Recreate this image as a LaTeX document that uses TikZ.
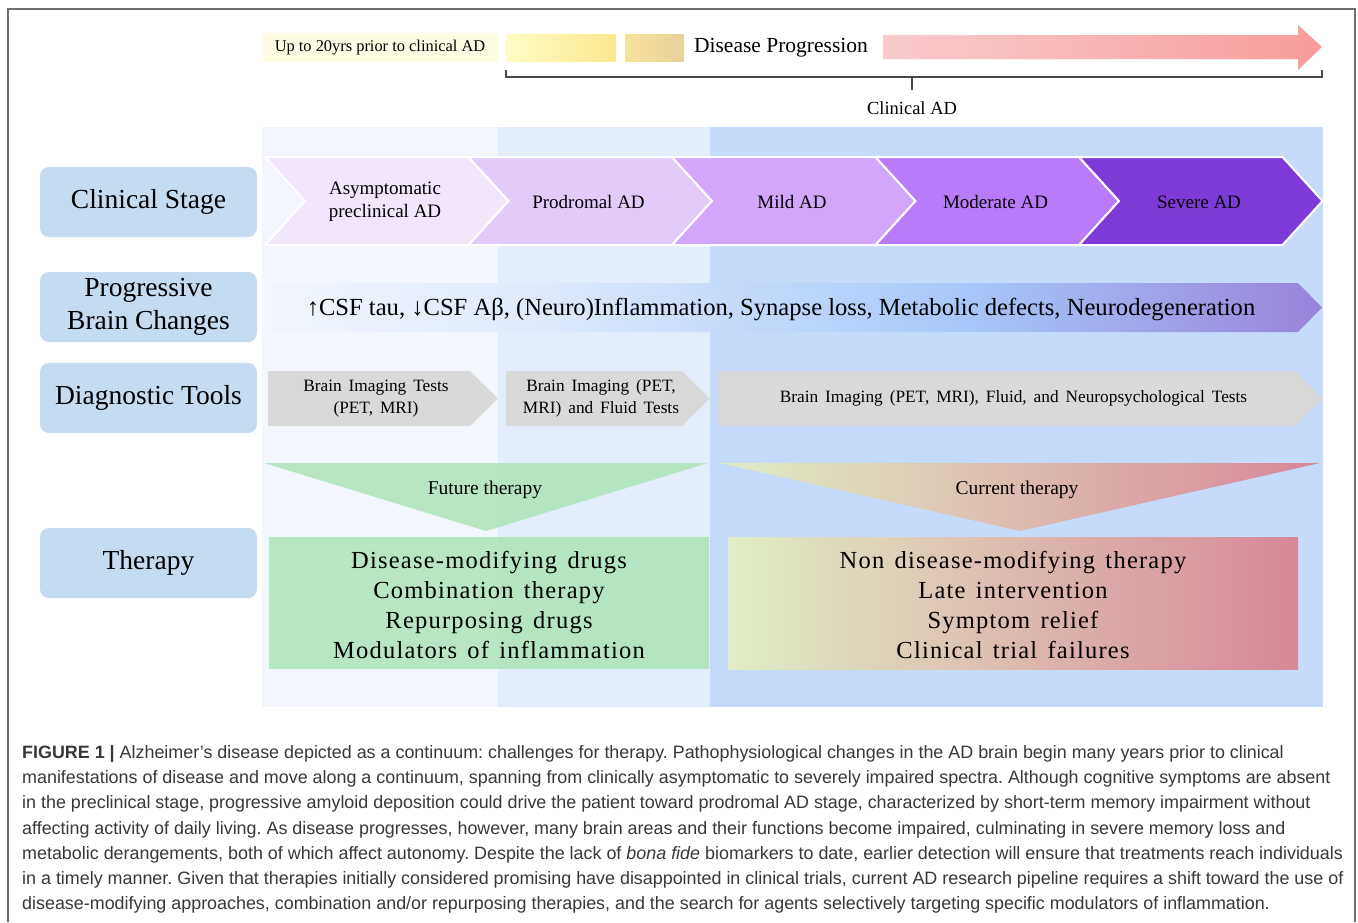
\documentclass[tikz,border=0pt]{standalone}
\usepackage{fontspec}
\setmainfont{Liberation Serif}
\newfontfamily\capfont{Liberation Sans}
\newfontfamily\widefont{Liberation Serif}[LetterSpace=5]
\usetikzlibrary{positioning}
\frenchspacing
\newcommand\toolspace{\spaceskip=.4em\relax}
\newcommand\therapyspace{\spaceskip=.42em\relax}

\definecolor{colA}{HTML}{F3F7FD}
\definecolor{colB}{HTML}{E3EDFB}
\definecolor{colC}{HTML}{C6DBFB}
\definecolor{labelblue}{HTML}{C5DBEF}
\definecolor{stageA}{HTML}{F1E6FB}
\definecolor{stageB}{HTML}{E2CBFB}
\definecolor{stageC}{HTML}{D2A6FB}
\definecolor{stageD}{HTML}{BA7BFA}
\definecolor{stageE}{HTML}{7E3AD7}
\definecolor{toolgrey}{HTML}{D9D9D9}
\definecolor{futuregreen}{HTML}{ACE4B8}
\definecolor{curA}{HTML}{E0EEC6}
\definecolor{curB}{HTML}{DCC0B2}
\definecolor{curC}{HTML}{D88798}
\definecolor{pinkA}{HTML}{F9CBCD}
\definecolor{pinkB}{HTML}{F79C9C}
\definecolor{prioryellow}{HTML}{FEFDE3}
\definecolor{yelA}{HTML}{FEFCC6}
\definecolor{yelB}{HTML}{FBE98E}
\definecolor{tanA}{HTML}{F8E19A}
\definecolor{tanB}{HTML}{E6D39C}
\definecolor{brainA}{HTML}{F1F5FC}
\definecolor{brainB}{HTML}{A7C8FA}
\definecolor{brainC}{HTML}{9A83DB}
\definecolor{bracegrey}{HTML}{4A4A4A}
\definecolor{framegrey}{HTML}{6E6E6E}
\definecolor{capgrey}{HTML}{383838}

\pgfdeclarehorizontalshading{brainshade}{100bp}{color(0bp)=(brainA); color(25bp)=(brainA);
    color(38bp)=(brainA!75!brainB); color(58bp)=(brainB); color(75bp)=(brainC); color(100bp)=(brainC)}

\begin{document}
\begin{tikzpicture}[
            x=1pt, y=-1pt,
            every node/.style={inner sep=0pt, text=black},
            rowlabel/.style={fill=labelblue, rounded corners=9pt, minimum width=217pt,
                minimum height=70pt, align=center, font=\fontsize{27.5}{33}\selectfont},
            stagetext/.style={align=center, font=\fontsize{19}{23}\selectfont},
            tooltext/.style={align=center, font=\fontsize{17.3}{22}\selectfont\toolspace},
            therapytext/.style={align=center, font=\widefont\fontsize{24.5}{30}\selectfont\therapyspace},
            bracestyle/.style={draw=bracegrey, line width=1.3pt}]

        \useasboundingbox (0,0) rectangle (1358,922);
        \fill[white] (0,0) rectangle (1358,922);
        \draw[framegrey, line width=1.5pt] (8,922) -- (8,9) -- (1355,9) -- (1355,922);

        \fill[colA] (262,127) rectangle (498,707);
        \fill[colB] (498,127) rectangle (710,707);
        \fill[colC] (710,127) rectangle (1323,707);

        \node[fill=prioryellow, minimum width=235pt, minimum height=29pt,
            font=\fontsize{16.4}{18}\selectfont] (prior) at (380,47.5) {Up to 20yrs prior to clinical AD};
        \shade[left color=yelA, right color=yelB] (506,34) rectangle (616,61);
        \shade[left color=tanA, right color=tanB] (625,34) rectangle (684,61);
        \node[font=\fontsize{21.5}{24}\selectfont] (progress) at (781,48) {Disease Progression};
        \shade[left color=pinkA, right color=pinkB] (883,35) -- (1298,35) -- (1298,25) -- (1322,47)
        -- (1298,70) -- (1298,59) -- (883,59) -- cycle;

        \draw[bracestyle] (506,70) -- (506,77) -- (1322,77) -- (1322,70);
        \coordinate (bracemid) at (912,77);
        \draw[bracestyle] (bracemid) -- ++(0,13) coordinate (bracetip);
        \node[below=11pt of bracetip, font=\fontsize{18.5}{20}\selectfont] (clinical) {Clinical AD};

        \node[rowlabel] (stagelbl) at (148.5,202) {Clinical Stage};
        \node[rowlabel] (brainlbl) at (148.5,307) {Progressive\\Brain Changes};
        \node[rowlabel] (toollbl) at (148.5,398) {Diagnostic Tools};
        \node[rowlabel] (therapylbl) at (148.5,563) {Therapy};

        \foreach \i/\col/\txt [evaluate=\i as \xa using 265+203.5*\i] in
            {0/stageA/{Asymptomatic\\preclinical AD}, 1/stageB/Prodromal AD, 2/stageC/Mild AD,
             3/stageD/Moderate AD, 4/stageE/Severe AD}
        {
            \fill[fill=\col, draw=white, line width=2pt] (\xa,157) -- ++(203.5,0) -- ++(40,44)
            -- ++(-40,44) -- ++(-203.5,0) -- ++(40,-44) -- cycle;
            \node[stagetext] (stage\i) at (\xa+120,202) {\txt};
        }

        \shade[shading=brainshade] (265,283) -- (1298,283) -- (1322,307.5) -- (1298,332)
        -- (265,332) -- cycle;
        \node[font=\fontsize{24.6}{26}\selectfont] (brainchg) at (781,309)
        {↑CSF tau, ↓CSF Aβ, (Neuro)Inflammation, Synapse loss, Metabolic defects, Neurodegeneration};

        \foreach \xa/\xb/\nm/\txt in
            {268/470/toolA/{Brain Imaging Tests\\(PET, MRI)},
             506/682/toolB/{Brain Imaging (PET,\\MRI) and Fluid Tests},
             718/1295/toolC/{Brain Imaging (PET, MRI), Fluid, and Neuropsychological Tests}}
        {
            \fill[toolgrey] (\xa,371) -- (\xb,371) -- (\xb+28,398.5) -- (\xb,426) -- (\xa,426) -- cycle;
            \node[tooltext] (\nm) at ({(\xa+\xb)/2+7},398.5) {\txt};
        }

        \fill[futuregreen, fill opacity=.85] (264,463) -- (708,463) -- (486,531) -- cycle;
        \node[font=\fontsize{19.5}{22}\selectfont] (futurelbl) at (485,490) {Future therapy};
        \fill[futuregreen, fill opacity=.85] (269,537) rectangle (709,669);
        \node[therapytext] (futurelist) at (489,605)
        {Disease-modifying drugs\\Combination therapy\\Repurposing drugs\\Modulators of inflammation};

        \shade[left color=curA, middle color=curB, right color=curC] (720,463) -- (1320,463)
        -- (1020,531) -- cycle;
        \node[font=\fontsize{19.5}{22}\selectfont] (currentlbl) at (1017,490) {Current therapy};
        \shade[left color=curA, middle color=curB, right color=curC] (728,537) rectangle (1298,669);
        \node[therapytext] (currentlist) at (1013,605)
        {Non disease-modifying therapy\\Late intervention\\Symptom relief\\Clinical trial failures};

        \node[anchor=north west, align=left, text=capgrey,
            font=\capfont\fontsize{17.9}{25.3}\selectfont] (caption) at (22,745)
        {\textbf{FIGURE 1 |} Alzheimer’s disease depicted as a continuum: challenges for therapy. Pathophysiological changes in the AD brain begin many years prior to clinical\\
        manifestations of disease and move along a continuum, spanning from clinically asymptomatic to severely impaired spectra. Although cognitive symptoms are absent\\
        in the preclinical stage, progressive amyloid deposition could drive the patient toward prodromal AD stage, characterized by short-term memory impairment without\\
        affecting activity of daily living. As disease progresses, however, many brain areas and their functions become impaired, culminating in severe memory loss and\\
        metabolic derangements, both of which affect autonomy. Despite the lack of \textit{bona fide} biomarkers to date, earlier detection will ensure that treatments reach individuals\\
        in a timely manner. Given that therapies initially considered promising have disappointed in clinical trials, current AD research pipeline requires a shift toward the use of\\
        disease-modifying approaches, combination and/or repurposing therapies, and the search for agents selectively targeting specific modulators of inflammation.};
    \end{tikzpicture}
\end{document}
